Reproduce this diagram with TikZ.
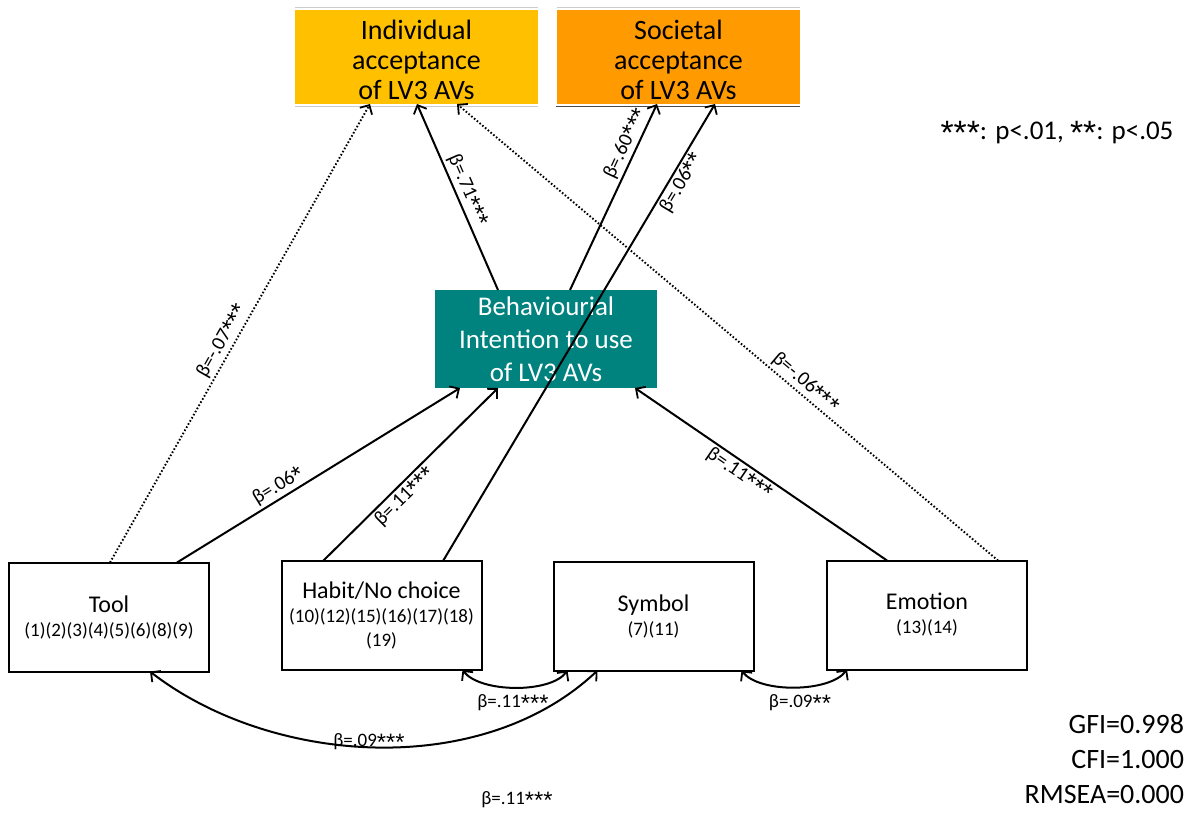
\documentclass[tikz,border=0pt]{standalone}
\usepackage{fontspec}
\setmainfont{Carlito}
\newfontfamily\astfont[Scale=1.25]{Liberation Sans}
\usetikzlibrary{arrows.meta}
\definecolor{indcol}{HTML}{FFC000}
\definecolor{soccol}{HTML}{FF9A00}
\definecolor{bicol}{HTML}{00827F}
\newcommand{\fs}[2]{\fontsize{#1}{#2}\selectfont}
% significance asterisks, set a little lower and larger than the text face gives them
\newcommand{\stars}[1]{\raisebox{-0.2em}{\astfont #1}}
\tikzset{
  every node/.style={inner sep=0pt, outer sep=0pt},
  topbox/.style={rectangle, minimum width=243pt, minimum height=94pt},
  toptext/.style={align=center, font=\fs{28}{30}},
  bibox/.style={rectangle, fill=bicol, text=white, minimum width=222pt, minimum height=98pt, align=center, font=\fs{27}{33}},
  factor/.style={rectangle, draw=black, line width=2pt, minimum width=200pt, minimum height=109pt, align=center, font=\fs{24}{24}},
  path/.style={line width=2pt, -{Straight Barb[length=7pt,width=14pt,line width=1.8pt]}},
  dotpath/.style={path, line width=1.9pt, dash pattern=on 1.6pt off 2pt},
  corr/.style={line width=2pt, {Straight Barb[length=7pt,width=14pt,line width=1.8pt]}-{Straight Barb[length=7pt,width=14pt,line width=1.8pt]}},
  coef/.style={font=\fs{19}{22}, inner sep=2pt},
  rcoef/.style={font=\fs{20}{22}, sloped, inner sep=3pt},
  fit/.style={font=\fs{28}{35}, align=right}
}
\begin{document}
\begin{tikzpicture}[x=1pt, y=-1pt]
\useasboundingbox (0,0) rectangle (1190,814);

% outcome boxes
\node[topbox, fill=indcol] (ind) at (416.5,57) {};
\node[topbox, fill=soccol] (soc) at (678.5,57) {};
\node[toptext] (indtext) at ([yshift=-3pt]ind.center) {Individual\\acceptance\\of LV3 AVs};
\node[toptext] (soctext) at ([yshift=-3pt]soc.center) {Societal\\acceptance\\of LV3 AVs};
\draw[gray!40, line width=0.8pt] ([yshift=3pt]ind.north west) -- ([yshift=3pt]ind.north east);
\draw[gray!40, line width=0.8pt] ([yshift=3pt]soc.north west) -- ([yshift=3pt]soc.north east);
\draw[gray!40, line width=0.8pt] ([yshift=-2pt]ind.south west) -- ([yshift=-2pt]ind.south east);
\draw[black!70, line width=1pt] ([yshift=-2.5pt,xshift=-1pt]soc.south west) -- ([yshift=-2.5pt]soc.south east);

% mediator
\node[bibox] (bi) at (546,339) {Behaviourial\\Intention to use\\of LV3 AVs};

% motive factors
\node[factor] (tool) at (109,617) {Tool\\{\fs{19}{24}(1)(2)(3)(4)(5)(6)(8)(9)}};
\node[factor] (habit) at (381.5,615.5) {Habit/No choice\\{\fs{19}{23}(10)(12)(15)(16)(17)(18)}\\{\fs{19}{23}(19)}};
\node[factor] (sym) at (653.5,616) {Symbol\\{\fs{19}{24}(7)(11)}};
\node[factor] (emo) at (927,615) {Emotion\\{\fs{19}{24}(13)(14)}};

% structural paths
\draw[dotpath] ([xshift=1pt]tool.north) -- node[rcoef, above, pos=0.47] {β=-.07\stars{***}} ([xshift=-46.5pt]ind.south);
\draw[path] ([xshift=68pt]tool.north) -- node[rcoef, above, pos=0.38] {β=.06\stars{*}} ([xshift=-86pt]bi.south);
\draw[path] ([xshift=-58.5pt]habit.north) -- node[rcoef, below, pos=0.42] {β=.11\stars{***}} ([xshift=-48pt]bi.south);
\draw[path] ([xshift=61.5pt]habit.north) -- node[rcoef, below, pos=0.84] {β=.06\stars{**}} ([xshift=36.5pt]soc.south);
\draw[path] ([xshift=-48pt]bi.north) -- node[rcoef, above, pos=0.51] {β=.71\stars{***}} ([xshift=0.5pt]ind.south);
\draw[path] ([xshift=24pt]bi.north) -- node[rcoef, above, pos=0.76] {β=.60\stars{***}} ([xshift=-21.5pt]soc.south);
\draw[path] ([xshift=-40pt]emo.north) -- node[rcoef, below, pos=0.56] {β=.11\stars{***}} ([xshift=89pt]bi.south);
\draw[dotpath] ([xshift=71pt]emo.north) -- node[rcoef, above, pos=0.37] {β=-.06\stars{***}} ([xshift=40.5pt]ind.south);

% correlations between factors
\draw[corr] ([xshift=-19pt]habit.south east) .. controls +(18,23) and +(-17,23) .. ([xshift=14pt]sym.south west);
\draw[corr] ([xshift=141pt]tool.south west) .. controls +(120,93) and +(-117,110) .. ([xshift=44pt]sym.south west);
\draw[corr] ([xshift=-12pt]sym.south east) .. controls +(18,23) and +(-17,23) .. ([xshift=20pt]emo.south west);
\node[coef] (c1) at (513,703) {β=.11\stars{***}};
\node[coef] (c2) at (369,742) {β=.09\stars{***}};
\node[coef] (c3) at (800,703) {β=.09\stars{**}};
\node[coef] (c4) at (517,800) {β=.11\stars{***}};

% legend and fit indices
\node[font=\fs{27}{30}] (legend) at (1057,133) {\stars{***}: p<.01, \stars{**}: p<.05};
\node[fit, anchor=east] (fitidx) at (1184,759) {GFI=0.998\\CFI=1.000\\RMSEA=0.000};
\end{tikzpicture}
\end{document}
